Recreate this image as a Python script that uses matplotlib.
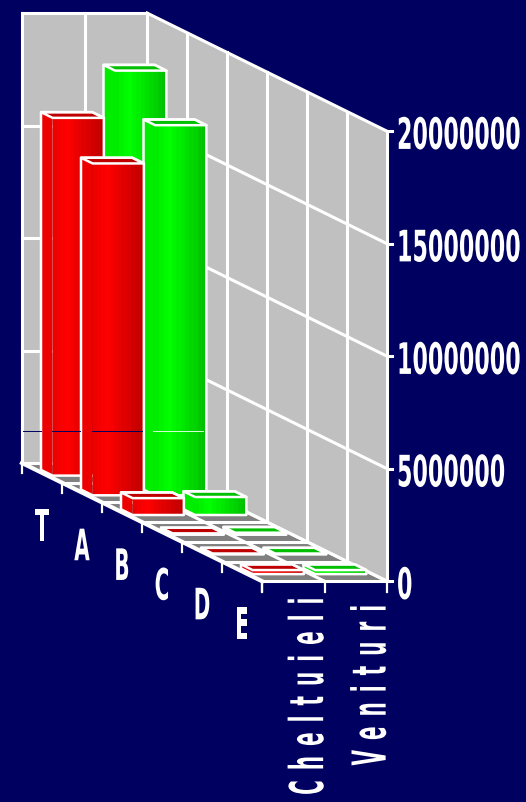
import matplotlib
matplotlib.use('Agg')
import matplotlib.pyplot as plt
import matplotlib.patheffects as pe
from matplotlib.transforms import Affine2D

categories = ['T', 'A', 'B', 'C', 'D', 'E']
series = ['Cheltuieli', 'Venituri']
cheltuieli = [15900000, 14750000, 750000, 60000, 40000, 180000]
venituri = [18000000, 16450000, 800000, 90000, 40000, 180000]
value_ticks = [0, 5000000, 10000000, 15000000, 20000000]

NAVY = '#000060'
WHITE = '#ffffff'
W, H = 526, 802


# squeeze real text without making it a path: the font has no condensed cut
class Stretch(pe.AbstractPathEffect):
    def __init__(self, sx, sy, cx, cy):
        super().__init__()
        self.extra = Affine2D().translate(-cx, -cy).scale(sx, sy).translate(cx, cy)

    def draw_path(self, renderer, gc, tpath, affine, rgbFace=None):
        renderer.draw_path(gc, tpath, affine + self.extra, rgbFace)


def proj(cat, ser, val=0):
    # oblique projection: category runs back to front, series left to right
    return 22 + 40.0 * cat + 62.5 * ser, 463 + 19.7 * cat - val * 450 / 20000000


def label(x, y, s, size, sx=1, sy=1, **kw):
    cx, cy = ax.transData.transform((x, y))
    ax.text(x, y, s, color=WHITE, fontsize=size, fontweight='bold', family='DejaVu Sans',
            path_effects=[Stretch(sx, sy, cx, cy)], zorder=20, **kw)


def line(p, q, lw=2.2, z=2):
    ax.plot([p[0], q[0]], [p[1], q[1]], color=WHITE, lw=lw, zorder=z, solid_capstyle='projecting')


def shade(rgb, k):
    return tuple(c * k for c in rgb)


def bar(cat, ser, val, rgb, z):
    d0, d1 = cat + 0.5 - 0.15, cat + 0.5 + 0.14
    s0, s1 = ser + 0.08, ser + 0.9
    # left side
    pts = [proj(d0, s0, val), proj(d1, s0, val), proj(d1, s0), proj(d0, s0)]
    ax.fill(*zip(*pts), color=shade(rgb, 0.93), lw=0, zorder=z)
    # front, in bands
    n = 12
    for i in range(n):
        t = i / (n - 1)
        k = 0.93 + t / 0.25 * 0.07 if t < 0.25 else 1 - (t - 0.25) / 0.75 * 0.24
        a = s0 + (s1 - s0) * i / n
        b = s0 + (s1 - s0) * (i + 1) / n
        pts = [proj(d1, a, val), proj(d1, b, val), proj(d1, b), proj(d1, a)]
        ax.fill(*zip(*pts), color=shade(rgb, k), lw=0, antialiased=False, zorder=z)
    # top
    pts = [proj(d0, s0, val), proj(d0, s1, val), proj(d1, s1, val), proj(d1, s0, val)]
    ax.fill(*zip(*pts), facecolor=shade(rgb, 0.75), edgecolor=WHITE, lw=1.8, joinstyle='round', zorder=z + 0.1)
    # outline
    pts = [proj(d0, s0, val), proj(d0, s1, val), proj(d1, s1, val), proj(d1, s1),
           proj(d1, s0), proj(d0, s0)]
    ax.fill(*zip(*pts), facecolor='none', edgecolor=WHITE, lw=1.8, joinstyle='round', zorder=z + 0.2)


fig = plt.figure(figsize=(W / 100, H / 100), dpi=100, facecolor=NAVY)
ax = fig.add_axes([0, 0, 1, 1])
ax.set_xlim(0, W)
ax.set_ylim(H, 0)
ax.axis('off')

nc, ns = len(categories), len(series)
top = value_ticks[-1]

# walls and floor
ax.fill(*zip(proj(0, 0), proj(0, ns), proj(0, ns, top), proj(0, 0, top)), color='#c0c0c0', lw=0, zorder=1)
ax.fill(*zip(proj(0, ns), proj(nc, ns), proj(nc, ns, top), proj(0, ns, top)), color='#c0c0c0', lw=0, zorder=1)
ax.fill(*zip(proj(0, 0), proj(0, ns), proj(nc, ns), proj(nc, 0)), color='#808080', lw=0, zorder=1)

# value gridlines with their ticks
for v in value_ticks:
    line(proj(0, 0, v), proj(0, ns, v))
    line(proj(0, ns, v), proj(nc, ns, v))
    xe, ye = proj(nc, ns, v)
    line((xe, ye), (xe + 5, ye))
    label(397, ye + 6, str(v), 16, sy=1.95, ha='left', va='center')

# category lines on side wall and floor
for k in range(nc + 1):
    line(proj(k, ns), proj(k, ns, top))
    line(proj(k, 0), proj(k, ns))
    x0, y0 = proj(k, 0)
    line((x0, y0), (x0, y0 + 10), lw=1.6, z=3)
for s in range(ns + 1):
    line(proj(0, s), proj(0, s, top))
    line(proj(0, s), proj(nc, s), lw=3 if s == 0 else 2.2, z=3 if s == 0 else 2)
    x0, y0 = proj(nc, s)
    line((x0, y0), (x0, y0 + 11), lw=1.6, z=3)

# bars back to front, green behind red within a category
for k in range(nc):
    bar(k, 1, venituri[k], (0, 1, 0), 4 + k * 2)
    bar(k, 0, cheltuieli[k], (1, 0, 0), 5 + k * 2)

# thin rendering seam that runs across the wall and bars
for a, b, c in [(23, 41, NAVY), (52, 80, NAVY), (92, 142, NAVY), (153, 203, '#d8ffd8')]:
    ax.plot([a, b], [431, 431], color=c, lw=0.7, zorder=18)

# category letters
for k, c in enumerate(categories):
    x, y = proj(k + 0.5, 0)
    label(x, y + 56, c, 16, sx=0.9, sy=1.95, ha='center', va='center')

# series names, rotated and letter spaced with en spaces
for s, name in enumerate(series):
    x, _ = proj(nc, s + 1)
    label(x + 8, 598 + s * 7, '\u2002'.join(name), 14.4, sx=2.34, ha='right', va='top', rotation=90)

fig.savefig('out.png', dpi=100, facecolor=NAVY)
